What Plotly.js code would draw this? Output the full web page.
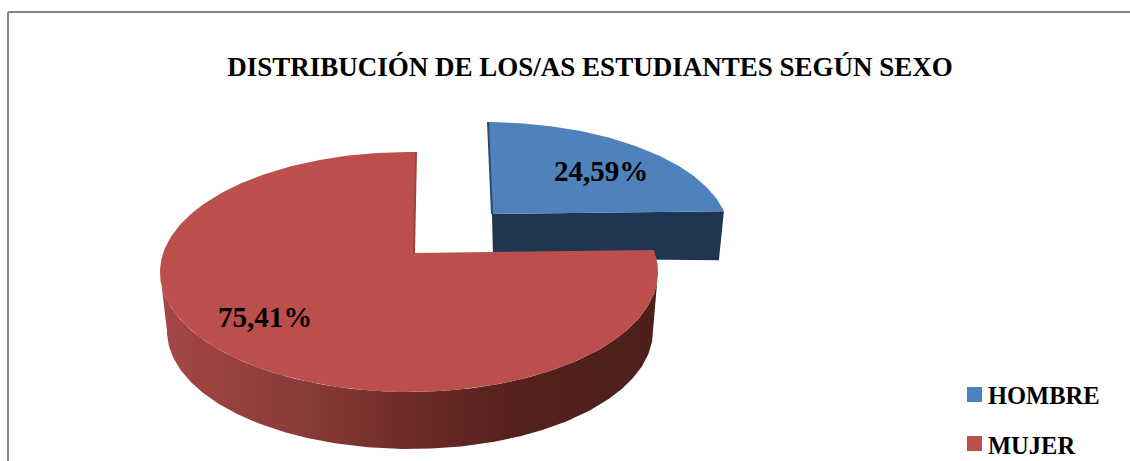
<!DOCTYPE html>
<html>
<head>
<meta charset="utf-8">
<script src="https://cdn.plot.ly/plotly-3.0.1.min.js"></script>
<style>html,body{margin:0;padding:0;background:#fff;overflow:hidden}</style>
</head>
<body>
<div id="chart" style="width:1130px;height:461px"></div>
<script>
const categories = ['HOMBRE', 'MUJER'];
const values = [24.59, 75.41];
const titleText = 'DISTRIBUCIÓN DE LOS/AS ESTUDIANTES SEGÚN SEXO';
const seriesColors = ['#4f81bd', '#bc4f4c'];

// Tilted-pie projection, in axis units
const blueTop = {px:492, py:214, cx:484, cy:234, a:245, b:112, s:-4.9};
const redTop  = {px:414, py:253, cx:409, cy:272, a:249, b:120, s:2.4};
const redBase = {cx:410, cy:331, a:243, b:118};
const blueDepth = 48;
const keyX = 974.5, keyY = [394.5, 443.5], keyTextX = 988, keyTextY = [395, 445];

function rim(e, deg) {
  const th = deg * Math.PI / 180;
  const dx = e.a * Math.sin(th) + e.s * Math.cos(th), dy = -e.b * Math.cos(th);
  const ox = (e.px - e.cx) / e.a, oy = (e.py - e.cy) / e.b;
  const ux = dx / e.a, uy = dy / e.b;
  const A = ux*ux + uy*uy, B = 2*(ox*ux + oy*uy), C = ox*ox + oy*oy - 1;
  const t = (-B + Math.sqrt(B*B - 4*A*C)) / (2*A);
  return [e.px + t*dx, e.py + t*dy];
}
function sector(e, from, to) {
  const xs = [e.px], ys = [e.py];
  for (let d = from; d <= to + 1e-6; d += 1) { const p = rim(e, d); xs.push(p[0]); ys.push(p[1]); }
  const end = rim(e, to); xs.push(end[0]); ys.push(end[1]);
  xs.push(e.px); ys.push(e.py);
  return {x: xs, y: ys};
}
const total = values.reduce((a, b) => a + b, 0);
const split = values[0] / total * 360;

const blueSector = sector(blueTop, 0, split);
const redSector = sector(redTop, split, 360);

// blue cut face
const corner = rim(blueTop, split);
const blueFace = {
  x: [blueTop.px, corner[0], corner[0] - 5, blueTop.px + 1, blueTop.px],
  y: [blueTop.py, corner[1], corner[1] + blueDepth + 1, blueTop.py + blueDepth - 4, blueTop.py]
};
// red outer wall
const wx = [], wy = [];
for (let d = 180; d >= 0; d--) {
  const r = d * Math.PI / 180;
  wx.push(redTop.cx + redTop.a * Math.cos(r)); wy.push(redTop.cy + redTop.b * Math.sin(r));
}
for (let d = 0; d <= 180; d++) {
  const r = d * Math.PI / 180;
  wx.push(redBase.cx + redBase.a * Math.cos(r)); wy.push(redBase.cy + redBase.b * Math.sin(r));
}
wx.push(wx[0]); wy.push(wy[0]);

const noHover = {hoverinfo: 'skip', showlegend: false};
const redInner = [rim(redTop, 360), [redTop.px, redTop.py]];
const blueInner = [rim(blueTop, 0), [blueTop.px, blueTop.py]];
const serif = '"Liberation Serif", serif';

const traces = [
  Object.assign({x: blueFace.x, y: blueFace.y, mode: 'lines', fill: 'toself', fillcolor: '#1f3552',
    line: {width: 0, color: '#1f3552'}}, noHover),
  Object.assign({x: blueSector.x, y: blueSector.y, mode: 'lines', fill: 'toself', fillcolor: seriesColors[0],
    line: {width: 0, color: seriesColors[0]}}, noHover),
  Object.assign({x: blueInner.map(p => p[0]), y: blueInner.map(p => p[1]), mode: 'lines',
    line: {width: 2, color: '#2c4a70'}}, noHover),
  Object.assign({x: wx, y: wy, mode: 'lines', fill: 'toself',
    fillgradient: {type: 'horizontal', colorscale: [
      [0, '#a5474a'], [0.08, '#9c4341'], [0.3, '#883a37'], [0.5, '#6e2b28'],
      [0.7, '#55211e'], [1, '#4d1f1b']]},
    line: {width: 0, color: '#6e2b28'}}, noHover),
  Object.assign({x: redSector.x, y: redSector.y, mode: 'lines', fill: 'toself', fillcolor: seriesColors[1],
    line: {width: 0, color: seriesColors[1]}}, noHover),
  Object.assign({x: redInner.map(p => p[0]), y: redInner.map(p => p[1]), mode: 'lines',
    line: {width: 2, color: '#9c4341'}}, noHover)
];
categories.forEach((c, i) => traces.push(Object.assign({
  x: [keyX], y: [keyY[i]], name: c, mode: 'markers',
  marker: {symbol: 'square', size: 15, color: seriesColors[i]}
}, noHover)));

const fmt = v => v.toFixed(2).replace('.', ',') + '%';
const bold = size => ({family: serif, size: size, weight: 700, color: '#000000'});

const layout = {
  width: 1130, height: 461,
  margin: {l: 0, r: 0, t: 0, b: 0, pad: 0},
  paper_bgcolor: '#ffffff', plot_bgcolor: '#ffffff',
  title: {text: titleText, x: 590/1130, xanchor: 'center', y: 1 - 67/461, yanchor: 'middle', font: bold(27)},
  xaxis: {range: [0, 1130], visible: false, fixedrange: true},
  yaxis: {range: [461, 0], visible: false, fixedrange: true},
  showlegend: false,
  annotations: [
    {x: 601, y: 171, text: fmt(values[0]), showarrow: false, xanchor: 'center', yanchor: 'middle', font: bold(29)},
    {x: 265, y: 317, text: fmt(values[1]), showarrow: false, xanchor: 'center', yanchor: 'middle', font: bold(29)}
  ].concat(categories.map((c, i) => ({
    x: keyTextX, y: keyTextY[i], text: c, showarrow: false, xanchor: 'left', yanchor: 'middle',
    xshift: -2, font: bold(24.5)
  }))),
  shapes: [
    {type: 'line', xref: 'paper', yref: 'paper', x0: 8/1130, x1: 8/1130, y0: 0, y1: 1 - 12/461,
      line: {color: '#868686', width: 2}},
    {type: 'line', xref: 'paper', yref: 'paper', x0: 8/1130, x1: 1, y0: 1 - 12/461, y1: 1 - 12/461,
      line: {color: '#868686', width: 2}}
  ]
};
Plotly.newPlot('chart', traces, layout, {displayModeBar: false, staticPlot: true});
</script>
</body>
</html>
